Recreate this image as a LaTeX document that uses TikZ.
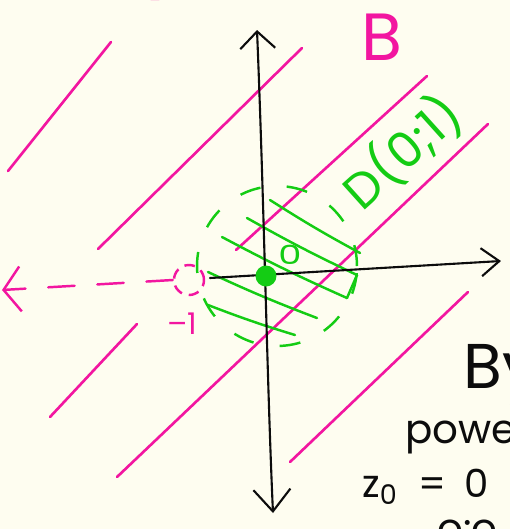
\documentclass[tikz,border=0pt]{standalone}
\usepackage{fontspec}
\setmainfont{Poppins}
\usetikzlibrary{positioning,arrows.meta}
\definecolor{paper}{RGB}{254,253,240}
\definecolor{hotpink}{RGB}{242,22,160}
\definecolor{limegreen}{RGB}{20,204,20}
\definecolor{inkblack}{RGB}{12,12,12}
\tikzset{
  axisline/.style={draw=inkblack, line width=1.2pt, line cap=round},
  pinkline/.style={draw=hotpink, line width=1.5pt, line cap=round},
  pinkdash/.style={draw=hotpink, line width=1.4pt, line cap=round, dash pattern=on 15pt off 13pt},
  hatchline/.style={draw=limegreen, line width=1.4pt, line cap=round},
  discedge/.style={draw=limegreen, circle, line width=1.4pt, dash pattern=on 12pt off 15pt, minimum size=3.2cm, inner sep=0pt},
  minusone/.style={draw=hotpink, circle, line width=1.4pt, dash pattern=on 6pt off 4pt, minimum size=0.6cm, inner sep=0pt},
  origindot/.style={fill=limegreen, circle, minimum size=0.42cm, inner sep=0pt},
  pinklabel/.style={text=hotpink, inner sep=0pt},
  greenlabel/.style={text=limegreen, inner sep=0pt},
  inklabel/.style={text=inkblack, inner sep=0pt, anchor=base west}
}
\begin{document}
\begin{tikzpicture}[x=0.02cm, y=-0.02cm]
  \useasboundingbox (0,0) rectangle (510,529);
  \fill[paper] (0,0) rectangle (510,529);
  \clip (0,0) rectangle (510,529);

  \draw[pinkline, line width=1.6pt] (122,-4) .. controls (140,-0.5) and (170,-0.5) .. (188,-4);
  \foreach \xa/\ya/\xb/\yb in {8/171/111/42, 98/249/302/48, 50/417/137/324, 236/250/427/76, 117/477/488/124, 290/462/468/292}
    \draw[pinkline] (\xa,\ya) -- (\xb,\yb);

  \node[discedge] (disc) at (277,266) {};
  \foreach \xa/\ya/\xb/\yb in {270/200/360/253, 247/218/357/275, 222/237/347/298, 208/272/317/318, 208/305/295/335}
    \draw[hatchline] (\xa,\ya) to[bend right=2] (\xb,\yb);
  \draw[hatchline] (357,275) -- (347,298);

  \coordinate (ytop) at (257,30);
  \coordinate (ybot) at (273,513);
  \coordinate (xleft) at (210,278);
  \coordinate (xright) at (501,261);
  \coordinate (xneg) at (2,290);
  \draw[axisline, {Straight Barb[length=3.4mm,width=7mm]}-{Straight Barb[length=4.4mm,width=7.4mm]}] (ytop) .. controls (264,200) and (267,380) .. (ybot);
  \draw[axisline, -{Straight Barb[length=3.6mm,width=5.6mm]}] (xleft) -- (xright);

  \node[origindot] (o) at (266,276) {};
  \node[minusone] (m1) at (189,280) {};
  \draw[pinkdash, -{Straight Barb[length=3.4mm,width=9mm]}] (m1.west) -- (xneg);

  \node[pinklabel, font=\fontsize{17}{20}\selectfont] (m1lab) at (182,324) {–1};
  \node[pinklabel, font=\fontsize{38}{40}\selectfont] (bset) at (382,37) {B};
  \node[greenlabel, rotate=42, font=\fontsize{28}{30}\selectfont] (dlabel) at (402,152) {D(0;1)};
  \node[greenlabel, xscale=1.4, font=\fontsize{15}{17}\selectfont] (zero) at (290,255) {0};

  \node[inklabel, font=\fontsize{36}{40}\selectfont] (by) at (463,388) {By};
  \node[inklabel, font=\fontsize{23}{26}\selectfont] (powe) at (405,443) {power};
  \node[inklabel, font=\fontsize{22}{26}\selectfont] (zeq) at (362,497) {z\textsubscript{0}\hspace{0.42cm}=\hspace{0.36cm}0};
  \node[inklabel, font=\fontsize{23}{26}\selectfont] (next) at (437,542) {o:o};
\end{tikzpicture}
\end{document}
